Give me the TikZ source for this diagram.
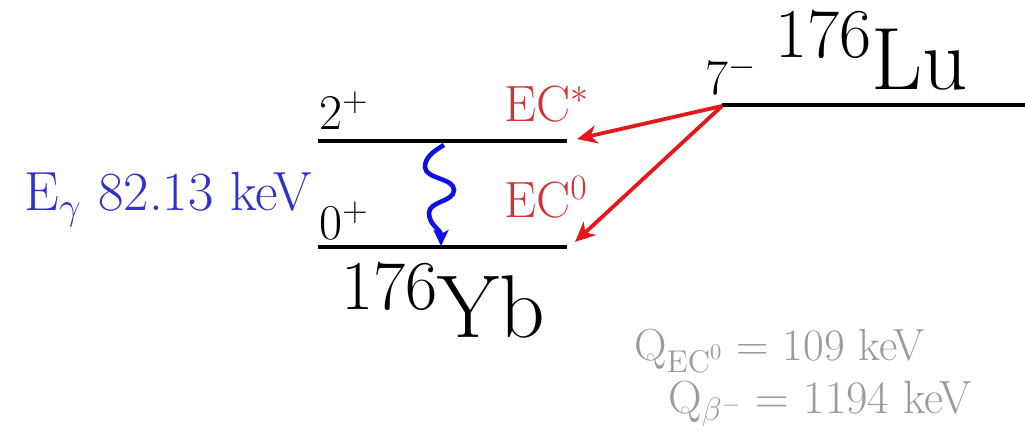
\RequirePackage{fix-cm}
\documentclass[tikz,border=0pt]{standalone}
\usetikzlibrary{arrows.meta}
\definecolor{ecred}{RGB}{212,48,58}
\definecolor{arrred}{RGB}{228,24,28}
\definecolor{gblue}{RGB}{48,48,205}
\definecolor{wblue}{RGB}{15,15,230}
\definecolor{qgray}{RGB}{155,155,155}
\tikzset{
  level/.style={line width=2.4pt, black},
  lbl/.style={anchor=base west, inner sep=0pt, font=\fontsize{25}{30}\selectfont},
  eclbl/.style={anchor=base west, inner sep=0pt, text=ecred, font=\fontsize{25.5}{30}\selectfont},
  qlbl/.style={anchor=base west, inner sep=0pt, text=qgray},
  ecarrow/.style={arrred, line width=1.9pt, -{Stealth[length=10pt,width=9pt,inset=3pt]}},
  gamma/.style={wblue, line width=2.3pt, -{Stealth[length=8pt,width=7.5pt,inset=2pt]}}
}
\newcommand{\isot}[3]{\raisebox{#3}{\fontsize{35}{42}\selectfont #1}#2}
\begin{document}
\begin{tikzpicture}[x=0.5pt,y=-0.5pt]
\useasboundingbox (0,0) rectangle (1025,432);
% levels
\coordinate (y2l) at (318,141);
\coordinate (y2r) at (567,141);
\coordinate (y0l) at (318,247);
\coordinate (y0r) at (567,247);
\coordinate (lul) at (722,105);
\coordinate (lur) at (1025,105);
\draw[level] (y2l) -- (y2r);
\draw[level] (y0l) -- (y0r);
\draw[level] (lul) -- (lur);
% spin labels
\node[lbl] (s2) at (319,130) {$2^+$};
\node[lbl] (s0) at (319,240) {$0^+$};
\node[lbl] (s7) at (705,95) {$7^-$};
% EC labels
\node[eclbl] (ecs) at (504,122) {EC$^*$};
\node[eclbl] (ec0) at (504,218) {EC$^0$};
% nuclide labels
\node[anchor=base west, inner sep=0pt, font=\fontsize{44.3}{52}\selectfont] (lu) at (775,90) {\isot{176}{Lu}{16pt}};
\node[anchor=base west, inner sep=0pt, font=\fontsize{44.6}{52}\selectfont] (yb) at (341,338) {\isot{176}{Yb}{14pt}};
% gamma label
\node[anchor=base west, inner sep=0pt, text=gblue, font=\fontsize{27.6}{33}\selectfont] (eg) at (24,211) {E$_\gamma$ 82.13 keV};
% Q values
\node[qlbl, font=\fontsize{22.5}{27}\selectfont] (q1) at (634,361) {Q$_{\mathrm{EC}^0}$ = 109 keV};
\node[qlbl, font=\fontsize{23.3}{28}\selectfont] (q2) at (668,414) {Q$_{\beta^-}$ = 1194 keV};
% EC arrows
\coordinate (src) at (722,106);
\coordinate (t2) at (577,139);
\coordinate (t0) at (575,242);
\draw[ecarrow] (src) -- (t2);
\draw[ecarrow] (src) -- (t0);
% gamma wave
\coordinate (gs) at (444,145);
\coordinate (ge) at (441,246);
\draw[gamma] (gs) .. controls (434,151) and (425,157) .. (425,167)
  .. controls (425,179) and (454,178) .. (454,190)
  .. controls (454,202) and (429,201) .. (429,213)
  .. controls (429,225) and (441,230) .. (ge);
\end{tikzpicture}
\end{document}
